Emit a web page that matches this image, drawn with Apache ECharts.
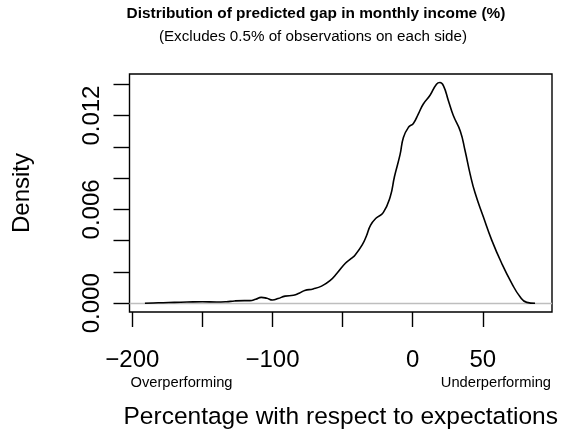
<!DOCTYPE html>
<html>
<head>
<meta charset="utf-8">
<script src="https://cdn.jsdelivr.net/npm/echarts@6/dist/echarts.min.js"></script>
<style>
  html, body { margin: 0; padding: 0; background: #ffffff; }
  #chart { width: 573px; height: 438px; }
</style>
</head>
<body>
<div id="chart"></div>
<script>
// Kernel density estimate of the predicted income gap (%)
const gapPct = [
  -191, -185, -178, -170, -161, -150, -140, -133, -127, -120,
  -116, -112, -108, -104, -100, -96, -91, -85, -81, -77,
  -71, -65, -59, -54, -48, -44, -41, -36, -33, -30,
  -26, -21, -16, -13, -9, -6.6, -3, 0.5, 4, 7.6,
  12.4, 17, 19.5, 22, 25.5, 29, 34, 37.4, 41, 44.5,
  50.4, 56.4, 63.5, 70.7, 76.6, 81.4, 87.3
];
const density = [
  0.00000, 0.00002, 0.00004, 0.00006, 0.00008, 0.00010, 0.00008, 0.00010, 0.00015, 0.00017,
  0.00017, 0.00026, 0.00038, 0.00032, 0.00021, 0.00030, 0.00046, 0.00051, 0.00064, 0.00082,
  0.00092, 0.00110, 0.00145, 0.00192, 0.00256, 0.00285, 0.00309, 0.00373, 0.00430, 0.00500,
  0.00545, 0.00580, 0.00681, 0.00809, 0.00950, 0.01060, 0.01125, 0.01150, 0.01210, 0.01274,
  0.01330, 0.01401, 0.01411, 0.01390, 0.01295, 0.01200, 0.01100, 0.00975, 0.00826, 0.00706,
  0.00553, 0.00404, 0.00256, 0.00128, 0.00042, 0.00006, 0.00000
];

const xTickValues = [-200, -150, -100, -50, 0, 50];
const xLabelValues = [-200, -100, 0, 50];
const yTickValues = [0, 0.002, 0.004, 0.006, 0.008, 0.010, 0.012, 0.014];
const yLabelValues = [0, 0.006, 0.012];

const FONT = '"Liberation Sans", Arial, Helvetica, sans-serif';

const points = gapPct.map((x, i) => [x, density[i]]);

const chart = echarts.init(document.getElementById('chart'), null, { renderer: 'canvas' });

chart.setOption({
  backgroundColor: '#ffffff',
  animation: false,
  title: [
    {
      text: 'Distribution of predicted gap in monthly income (%)',
      left: 311, top: 1, textAlign: 'center',
      textStyle: { fontFamily: FONT, fontSize: 15.4, fontWeight: 'bold', color: '#000' }
    },
    {
      text: '(Excludes 0.5% of observations on each side)',
      left: 308, top: 24, textAlign: 'center',
      textStyle: { fontFamily: FONT, fontSize: 15.2, fontWeight: 'normal', color: '#000' }
    }
  ],
  grid: {
    left: 129.5, right: 21, top: 74, bottom: 126,
    show: true, borderColor: '#000', borderWidth: 1.4, backgroundColor: 'transparent'
  },
  xAxis: {
    type: 'value',
    min: -202, max: 99.4,
    name: 'Percentage with respect to expectations',
    nameLocation: 'middle',
    nameGap: 93,
    nameTextStyle: { fontFamily: FONT, fontSize: 24.5, color: '#000' },
    axisLine: { show: false, onZero: false },
    splitLine: { show: false },
    axisTick: {
      show: true, inside: false, length: 15,
      customValues: xTickValues,
      lineStyle: { color: '#000', width: 1.4 }
    },
    axisLabel: {
      customValues: xLabelValues,
      margin: 36,
      fontFamily: FONT, fontSize: 24, color: '#000',
      formatter: v => (v < 0 ? '\u2212' + Math.abs(v) : String(v))
    }
  },
  yAxis: {
    type: 'value',
    min: -0.000556, max: 0.014658,
    name: 'Density',
    nameLocation: 'middle',
    nameRotate: 90,
    nameGap: 95,
    nameTextStyle: { fontFamily: FONT, fontSize: 24, color: '#000' },
    axisLine: { show: false, onZero: false },
    splitLine: { show: false },
    axisTick: {
      show: true, inside: false, length: 16,
      customValues: yTickValues,
      lineStyle: { color: '#000', width: 1.4 }
    },
    axisLabel: {
      customValues: yLabelValues,
      rotate: 90,
      margin: 25,
      fontFamily: FONT, fontSize: 24, color: '#000',
      formatter: v => v.toFixed(3)
    }
  },
  graphic: [
    {
      type: 'text', left: 130.5, top: 375,
      style: { text: 'Overperforming', font: '14.7px ' + FONT, fill: '#000' }
    },
    {
      type: 'text', right: 22, top: 375,
      style: { text: 'Underperforming', font: '14.7px ' + FONT, fill: '#000' }
    }
  ],
  series: [
    {
      type: 'line',
      data: points,
      smooth: 0.5,
      showSymbol: false,
      lineStyle: { color: '#000', width: 1.6 },
      z: 3,
      markLine: {
        silent: true,
        symbol: 'none',
        label: { show: false },
        lineStyle: { color: '#bebebe', width: 1.4, type: 'solid' },
        data: [{ yAxis: 0 }],
        z: 2
      }
    }
  ]
});
</script>
</body>
</html>
